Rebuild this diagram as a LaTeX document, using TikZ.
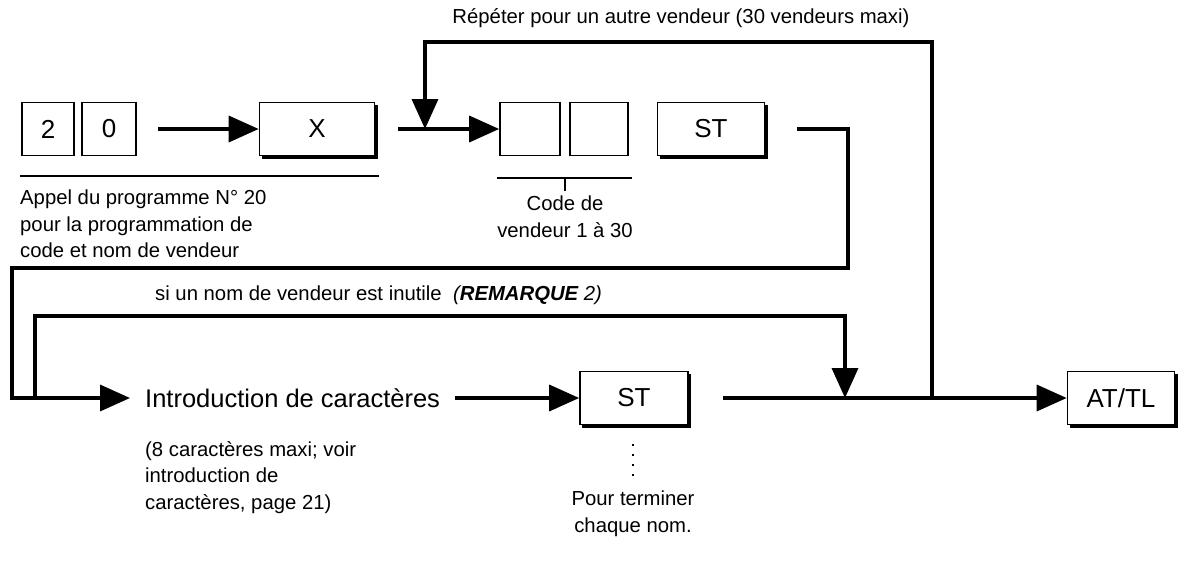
\documentclass[tikz,border=0pt]{standalone}
\usepackage{fontspec}
\setmainfont{Liberation Sans}
\usetikzlibrary{arrows.meta}
\begin{document}
\begin{tikzpicture}[x=1pt,y=-1pt,
  ln/.style={line width=3.5pt,line join=miter},
  ar/.style={ln,-{Triangle[length=30pt,width=26pt]}},
  key/.style={draw,line width=1.6pt,minimum height=53pt,font=\fontsize{26}{30}\selectfont},
  lbl/.style={font=\fontsize{20.3}{26.5}\selectfont,align=left,inner sep=0pt}]
\useasboundingbox (0,0) rectangle (1195,576);
\node[key,minimum width=52pt] (k2) at (48,129) {2};
\node[key,minimum width=54pt] (k0) at (109,129) {0};
\fill (262,105) rectangle (378,159); \node[key,fill=white,minimum width=115pt] (kx) at (317,129) {X};
\node[key,minimum width=60pt] (c1) at (530,129) {};
\node[key,minimum width=58pt] (c2) at (599,129) {};
\fill (660,105) rectangle (768,159); \node[key,fill=white,minimum width=107pt] (st1) at (711,129) {ST};
\fill (582,374) rectangle (691,428); \node[key,fill=white,minimum width=108pt] (st2) at (634,398) {ST};
\fill (1070,374) rectangle (1178,428); \node[key,fill=white,minimum width=107pt] (at) at (1121,398) {AT/TL};
\node[font=\fontsize{25.5}{30}\selectfont,inner sep=0pt,anchor=west] (intro) at (145,398) {Introduction de caractères};
\draw[line width=2pt] (20,176) -- (379,176);
\draw[line width=1.6pt] (497,178) -- (632,178) (565,178) -- (565,191);
\coordinate (j1) at (425,129);
\coordinate (j2) at (845,398);
\coordinate (j3) at (932,398);
\draw[ar] (158,129) -- (kx.west);
\draw[ar] (398,129) -- (c1.west);
\draw[ar] (j3) -- (932,42) -- (425,42) -- (j1);
\draw[ln] (797,129) -- (848,129) -- (848,268) -- (12,268) -- (12,398) -- (50,398);
\draw[ar] (12,398) -- (130,398);
\draw[ar] (35,398) -- (35,316) -- (845,316) -- (j2);
\draw[ar] (455,398) -- (st2.west);
\draw[ar] (723,398) -- (at.west);
\draw[line width=1.6pt,dash pattern=on 2pt off 8pt] (633,444) -- (633,478);
\node[lbl,anchor=north west] (t1) at (20,190) {Appel du programme N° 20\\pour la programmation de\\code et nom de vendeur};
\node[lbl,align=center,anchor=north] (t2) at (565,196) {Code de\\vendeur 1 à 30};
\node[lbl,anchor=north west] (t3) at (145,441) {(8 caractères maxi; voir\\introduction de\\caractères, page 21)};
\node[lbl,align=center,anchor=north] (t4) at (633,491) {Pour terminer\\chaque nom.};
\node[lbl] (t5) at (681,18) {Répéter pour un autre vendeur (30 vendeurs maxi)};
\node[lbl,anchor=west] (t6) at (155,295) {si un nom de vendeur est inutile\ \ \textit{(\textbf{REMARQUE} 2)}};
\end{tikzpicture}
\end{document}
